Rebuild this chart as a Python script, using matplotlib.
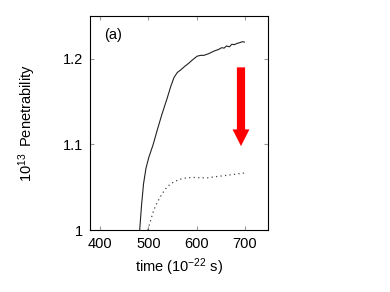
import matplotlib
matplotlib.use("Agg")
import matplotlib.pyplot as plt

plt.rcParams['font.family'] = ['Liberation Sans', 'DejaVu Sans']
plt.rcParams['mathtext.fontset'] = 'custom'
plt.rcParams['mathtext.rm'] = 'Liberation Sans'
plt.rcParams['mathtext.it'] = 'Liberation Sans:italic'

# solid curve (upper)
t_solid = [482, 486, 490, 495, 501, 510, 518, 528, 539, 546, 553, 560, 567, 575,
           584, 592, 601, 608, 615, 625, 636, 646, 652, 657, 662, 668, 673, 678,
           684, 690, 695, 699]
p_solid = [1.000, 1.030, 1.054, 1.072, 1.085, 1.100, 1.116, 1.135, 1.154, 1.167,
           1.178, 1.184, 1.187, 1.191, 1.195, 1.199, 1.203, 1.204, 1.204, 1.206,
           1.209, 1.211, 1.213, 1.2125, 1.215, 1.214, 1.217, 1.2165, 1.218, 1.219,
           1.220, 1.2195]

# dotted curve (lower)
t_dot = [499, 505, 511, 519, 528, 537, 546, 556, 567, 580, 594, 608, 622, 636,
         650, 664, 678, 690, 699]
p_dot = [1.000, 1.012, 1.023, 1.033, 1.042, 1.049, 1.054, 1.057, 1.0595, 1.061,
         1.0614, 1.061, 1.061, 1.062, 1.063, 1.064, 1.065, 1.066, 1.0665]

xticks = [400, 500, 600, 700]
yticks = [1.0, 1.1, 1.2]
ytick_labels = ['1', '1.1', '1.2']

# red arrow (annotation)
arrow_x = 692
arrow_top = 1.190
arrow_tip = 1.098

fig = plt.figure(figsize=(3.9, 2.92), dpi=100)
ax = fig.add_axes([90 / 390, 1 - 230 / 292, 178 / 390, 214 / 292])

ax.plot(t_solid, p_solid, color='#222222', linewidth=0.8)
ax.plot(t_dot, p_dot, color='#444444', linewidth=0.9, linestyle=(0, (1.0, 2.6)))

ax.arrow(arrow_x, arrow_top, 0, arrow_tip - arrow_top, width=17, head_width=35,
         head_length=0.0195, length_includes_head=True, color='red', linewidth=0)

ax.set_xlim(379, 748)
ax.set_ylim(1.0, 1.25)
ax.set_xticks(xticks)
ax.set_yticks(yticks)
ax.set_yticklabels(ytick_labels)
ax.tick_params(direction='in', top=True, right=True, length=3, width=0.8,
               color='#999999', labelsize=10.5, pad=5)
for s in ax.spines.values():
    s.set_linewidth(0.8)

ax.text(0.08, 0.91, '(a)', transform=ax.transAxes, fontsize=10.5,
        va='center', ha='left')

ax.set_xlabel('time (10$^{-22}$ s)', fontsize=10.5, labelpad=4)
ax.set_ylabel('10$^{13}$\u2009 Penetrability', fontsize=10.5, labelpad=18)

fig.savefig('out.png', dpi=100)
